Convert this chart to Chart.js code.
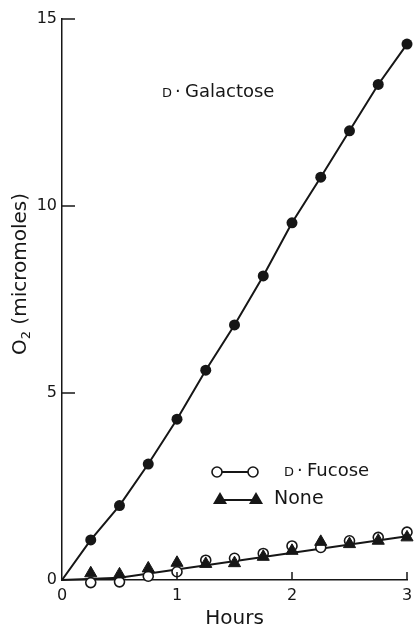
<!DOCTYPE html>
<html lang="en">
<head>
  <meta charset="UTF-8">
  <title>O2 uptake</title>
  <script src="https://cdn.jsdelivr.net/npm/chart.js"></script>
  <style>
    body { margin: 0; background: #fff; }
    canvas { display: block; }
  </style>
</head>
<body>
  <canvas id="o2Chart" width="415" height="631"></canvas>

  <script>
    // hours, every quarter hour
    const hours = [0, 0.25, 0.5, 0.75, 1, 1.25, 1.5, 1.75, 2, 2.25, 2.5, 2.75, 3];
    const galactose = [0, 1.07, 1.99, 3.10, 4.30, 5.61, 6.82, 8.13, 9.55, 10.77, 12.01, 13.25, 14.33];
    const fucoseHours = [0.25, 0.5, 0.75, 1, 1.25, 1.5, 1.75, 2, 2.25, 2.5, 2.75, 3];
    const fucose = [-0.07, -0.05, 0.10, 0.22, 0.53, 0.58, 0.71, 0.91, 0.87, 1.05, 1.14, 1.28];
    const noneValues = [0.18, 0.15, 0.31, 0.46, 0.43, 0.45, 0.62, 0.78, 1.02, 0.96, 1.05, 1.14];
    // drawn curve through the two low series
    const lowFitHours = [0, 0.5, 3];
    const lowFit = [0, 0.06, 1.17];
    const xTicks = [0, 1, 2, 3];
    const yTicks = [0, 5, 10, 15];

    const ink = '#161616';
    const fontFam = '"DejaVu Sans", sans-serif';

    const toXY = (xs, ys) => xs.map((x, i) => ({ x: x, y: ys[i] }));

    // small-cap "D" + dot + name
    function dLabel(ctx, x, y, name, size) {
      ctx.font = '13px ' + fontFam;
      ctx.fillText('D', x, y + 2);
      ctx.font = '18px ' + fontFam;
      ctx.fillText('·', x + 13, y);
      ctx.font = size + 'px ' + fontFam;
      ctx.fillText(name, x + 23, y);
    }

    // inward tick marks, labels and legend
    const extras = {
      id: 'extras',
      afterDatasetsDraw(chart) {
        const ctx = chart.ctx;
        const xs = chart.scales.x, ys = chart.scales.y;
        const left = chart.chartArea.left, bottom = chart.chartArea.bottom;
        ctx.save();
        ctx.strokeStyle = ink;
        ctx.lineWidth = 1.5;
        yTicks.slice(1).forEach(v => {
          const py = ys.getPixelForValue(v);
          ctx.beginPath(); ctx.moveTo(left, py); ctx.lineTo(left + 13, py); ctx.stroke();
        });
        xTicks.slice(1).forEach(v => {
          const px = xs.getPixelForValue(v);
          ctx.beginPath(); ctx.moveTo(px, bottom); ctx.lineTo(px, bottom - 8); ctx.stroke();
        });

        ctx.fillStyle = ink;
        ctx.textBaseline = 'middle';
        ctx.textAlign = 'left';

        dLabel(ctx, 162, 92, 'Galactose', 18);

        // legend: D-Fucose
        ctx.lineWidth = 2;
        ctx.beginPath(); ctx.moveTo(217, 472); ctx.lineTo(253, 472); ctx.stroke();
        [217, 253].forEach(cx => {
          ctx.beginPath(); ctx.arc(cx, 472, 5, 0, Math.PI * 2);
          ctx.fillStyle = '#fff'; ctx.fill();
          ctx.lineWidth = 1.6; ctx.stroke();
        });
        ctx.fillStyle = ink;
        dLabel(ctx, 284, 471, 'Fucose', 18);

        // legend: None
        ctx.lineWidth = 2;
        ctx.beginPath(); ctx.moveTo(220, 500); ctx.lineTo(256, 500); ctx.stroke();
        [220, 256].forEach(cx => {
          ctx.beginPath();
          ctx.moveTo(cx, 492); ctx.lineTo(cx + 7, 504); ctx.lineTo(cx - 7, 504);
          ctx.closePath(); ctx.fill();
        });
        ctx.font = '19px ' + fontFam;
        ctx.fillText('None', 274, 499);

        // y axis title, O2 with subscript
        ctx.translate(21, 274);
        ctx.rotate(-Math.PI / 2);
        ctx.font = '20px ' + fontFam;
        const w1 = ctx.measureText('O').width;
        ctx.font = '13px ' + fontFam;
        const w2 = ctx.measureText('2').width;
        ctx.font = '20px ' + fontFam;
        const w3 = ctx.measureText(' (micromoles)').width;
        let tx = -(w1 + w2 + w3) / 2;
        ctx.fillText('O', tx, 0);
        tx += w1;
        ctx.font = '13px ' + fontFam;
        ctx.fillText('2', tx, 6);
        tx += w2;
        ctx.font = '20px ' + fontFam;
        ctx.fillText(' (micromoles)', tx, 0);
        ctx.restore();
      }
    };

    new Chart(document.getElementById('o2Chart').getContext('2d'), {
      type: 'scatter',
      data: {
        datasets: [
          {
            label: 'fit',
            data: toXY(lowFitHours, lowFit),
            showLine: true,
            borderColor: ink,
            borderWidth: 2,
            pointRadius: 0,
            order: 4,
            clip: false
          },
          {
            label: 'D-Galactose',
            data: toXY(hours, galactose),
            showLine: true,
            borderColor: ink,
            borderWidth: 2,
            backgroundColor: ink,
            pointRadius: ctx => ctx.dataIndex === 0 ? 0 : 5.5,
            pointBorderWidth: 0,
            order: 3,
            clip: false
          },
          {
            label: 'D-Fucose',
            data: toXY(fucoseHours, fucose),
            showLine: false,
            pointStyle: 'circle',
            pointRadius: 5,
            pointBackgroundColor: '#fff',
            pointBorderColor: ink,
            pointBorderWidth: 1.6,
            order: 2,
            clip: false
          },
          {
            label: 'None',
            data: toXY(fucoseHours, noneValues),
            showLine: false,
            pointStyle: 'triangle',
            pointRadius: 7,
            pointBackgroundColor: ink,
            pointBorderColor: ink,
            pointBorderWidth: 1,
            order: 1,
            clip: false
          }
        ]
      },
      options: {
        responsive: false,
        animation: false,
        layout: { padding: { top: 19, right: 8, left: 0, bottom: 0 } },
        plugins: { legend: { display: false }, tooltip: { enabled: false } },
        scales: {
          x: {
            type: 'linear',
            min: 0,
            max: 3,
            afterFit: s => { s.height = 51; s.paddingLeft = 0; s.paddingRight = 0; },
            afterBuildTicks: s => { s.ticks = xTicks.map(v => ({ value: v })); },
            grid: { display: false, drawTicks: false },
            border: { color: ink, width: 1.5 },
            ticks: { color: ink, padding: 6, font: { family: fontFam, size: 16 } },
            title: {
              display: true,
              text: 'Hours',
              color: ink,
              padding: { top: 4, bottom: 0 },
              font: { family: fontFam, size: 20 }
            }
          },
          y: {
            min: 0,
            max: 15,
            afterFit: s => { s.width = 62; },
            afterBuildTicks: s => { s.ticks = yTicks.map(v => ({ value: v })); },
            grid: { display: false, drawTicks: false },
            border: { color: ink, width: 1.5 },
            ticks: { color: ink, padding: 5, font: { family: fontFam, size: 16 } }
          }
        }
      },
      plugins: [extras]
    });
  </script>
</body>
</html>
